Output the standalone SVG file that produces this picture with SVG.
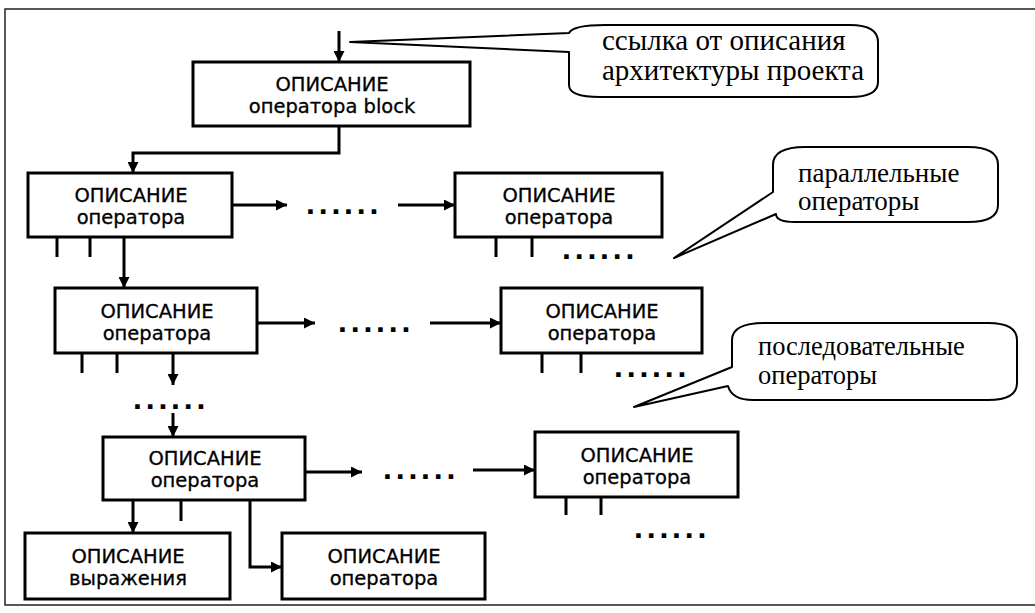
<svg xmlns="http://www.w3.org/2000/svg" width="1035" height="613" viewBox="0 0 1035 613">
<defs>
<style>
.box{fill:#fff;stroke:#000;stroke-width:3}
.bt{font-family:"DejaVu Sans",Verdana,sans-serif;font-size:19.5px;text-anchor:middle;fill:#000;stroke:#000;stroke-width:0.3}
.ct{font-family:"Liberation Serif","Times New Roman",serif;font-size:27px;fill:#000}
.ct1{font-size:29px}
.ct3{font-size:26.5px}
.bub{fill:#fff;stroke:#000;stroke-width:2;stroke-linejoin:round}
.ln{fill:none;stroke:#000;stroke-width:3}
.arr{fill:none;stroke:#000;stroke-width:3;marker-end:url(#ah)}
.dots{font-family:"Liberation Sans",Arial,sans-serif;font-weight:bold;font-size:32px;letter-spacing:3.8px;fill:#000}
.frame{fill:none;stroke:#222;stroke-width:1.5}
</style>
<marker id="ah" viewBox="0 0 10 10" refX="10" refY="5" markerUnits="userSpaceOnUse" markerWidth="12" markerHeight="11" orient="auto">
<path d="M0,0 L10,5 L0,10 Z" fill="#000"/>
</marker>
</defs>
<rect width="1035" height="613" fill="#fff"/>
<path class="frame" d="M1035,9 H5 V605 H1035"/>

<g id="connectors">
<path class="arr" d="M339,31 V62"/>
<path class="arr" d="M339,126 V153 H133 V173"/>
<path class="arr" d="M232,205 H287"/>
<path class="arr" d="M398,205 H455"/>
<path class="arr" d="M124,237 V288"/>
<path class="arr" d="M257,323 H315"/>
<path class="arr" d="M430,323 H501"/>
<path class="arr" d="M173,353 V385"/>
<path class="arr" d="M173,413 V437"/>
<path class="arr" d="M305,472 H362"/>
<path class="arr" d="M473,470 H535"/>
<path class="arr" d="M133,500 V533"/>
<path class="arr" d="M250,500 V567 H282"/>
<path class="ln" d="M57,237 V257 M90,237 V257 M496,237 V257 M532,237 V257 M82,353 V373 M117,353 V373 M542,353 V373 M581,353 V373 M181,500 V521 M566,497 V515 M601,497 V515"/>
<text class="dots" x="306" y="214">......</text>
<text class="dots" x="562" y="259">......</text>
<text class="dots" x="338" y="332">......</text>
<text class="dots" x="614" y="377">......</text>
<text class="dots" x="133" y="409">......</text>
<text class="dots" x="383" y="479">......</text>
<text class="dots" x="634" y="538">......</text>
</g>

<g id="block">
<rect class="box" x="193" y="62" width="277" height="64"/>
<text class="bt" x="332" y="91">ОПИСАНИЕ</text>
<text class="bt" x="332" y="113">оператора block</text>
</g>
<g id="op1">
<rect class="box" x="28" y="173" width="204" height="64"/>
<text class="bt" x="131" y="202">ОПИСАНИЕ</text>
<text class="bt" x="131" y="224">оператора</text>
</g>
<g id="op1r">
<rect class="box" x="455" y="173" width="207" height="64"/>
<text class="bt" x="559" y="202">ОПИСАНИЕ</text>
<text class="bt" x="559" y="224">оператора</text>
</g>
<g id="op2">
<rect class="box" x="55" y="288" width="202" height="65"/>
<text class="bt" x="157" y="318">ОПИСАНИЕ</text>
<text class="bt" x="157" y="340">оператора</text>
</g>
<g id="op2r">
<rect class="box" x="501" y="288" width="201" height="65"/>
<text class="bt" x="602" y="318">ОПИСАНИЕ</text>
<text class="bt" x="602" y="340">оператора</text>
</g>
<g id="op3">
<rect class="box" x="103" y="437" width="202" height="63"/>
<text class="bt" x="205" y="465">ОПИСАНИЕ</text>
<text class="bt" x="205" y="487">оператора</text>
</g>
<g id="op3r">
<rect class="box" x="535" y="432" width="203" height="65"/>
<text class="bt" x="637" y="462">ОПИСАНИЕ</text>
<text class="bt" x="637" y="484">оператора</text>
</g>
<g id="expr">
<rect class="box" x="25" y="533" width="205" height="66"/>
<text class="bt" x="128" y="563">ОПИСАНИЕ</text>
<text class="bt" x="128" y="585">выражения</text>
</g>
<g id="op4">
<rect class="box" x="282" y="533" width="203" height="66"/>
<text class="bt" x="384" y="563">ОПИСАНИЕ</text>
<text class="bt" x="384" y="585">оператора</text>
</g>

<g id="callout1">
<path class="bub" d="M569,33 Q573,25 605,25 H850 Q878,25 878,42 V82 Q878,97 850,97 H600 Q569,97 569,85 V52 L350,42 Z"/>
<text class="ct ct1" x="602" y="50">ссылка от описания</text>
<text class="ct ct1" x="602" y="80">архитектуры проекта</text>
</g>
<g id="callout2">
<path class="bub" d="M773,192 V165 Q773,147 805,147 H968 Q998,147 998,165 V205 Q998,222 968,222 H795 Q776,222 776,214 L674,258 Z"/>
<text class="ct" x="798" y="182">параллельные</text>
<text class="ct" x="798" y="210">операторы</text>
</g>
<g id="callout3">
<path class="bub" d="M732,367 V340 Q732,323 765,323 H988 Q1017,323 1017,340 V383 Q1017,400 988,400 H753 Q732,400 728,386 L634,407 Z"/>
<text class="ct ct3" x="758" y="355">последовательные</text>
<text class="ct ct3" x="758" y="384">операторы</text>
</g>
</svg>
